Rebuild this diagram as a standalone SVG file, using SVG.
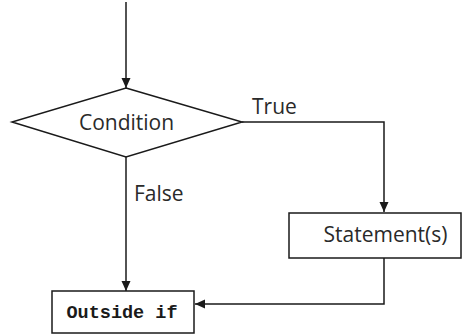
<svg xmlns="http://www.w3.org/2000/svg" width="466" height="336" viewBox="0 0 466 336">
  <style>
    .shape { fill: #ffffff; stroke: #1a1a1a; stroke-width: 1.5; }
    .wire { fill: none; stroke: #1a1a1a; stroke-width: 1.5; }
    .label { font-family: "Open Sans", "Liberation Sans", sans-serif; font-size: 21px; fill: #2a2a2a; }
    .code { font-family: "Liberation Mono", "DejaVu Sans Mono", monospace; font-size: 18.5px; font-weight: bold; fill: #1a1a1a; }
  </style>
  <defs>
    <marker id="arrow" markerWidth="10" markerHeight="10" refX="10" refY="5" orient="auto" markerUnits="userSpaceOnUse">
      <path d="M0,0.5 L10,5 L0,9.5 Z" fill="#1a1a1a"/>
    </marker>
  </defs>
  <rect width="466" height="336" fill="#ffffff"/>

  <g id="connectors">
    <path class="wire" d="M126,2 L126,88" marker-end="url(#arrow)"/>
    <path class="wire" d="M242,122 L384,122 L384,212" marker-end="url(#arrow)"/>
    <path class="wire" d="M126,157 L126,291" marker-end="url(#arrow)"/>
    <path class="wire" d="M384,258 L384,304 L195,304" marker-end="url(#arrow)"/>
    <text class="label" x="252" y="114">True</text>
    <text class="label" x="134" y="201">False</text>
  </g>

  <g id="condition">
    <polygon class="shape" points="126,88 242,122 126,157 12,122"/>
    <text class="label" x="126.5" y="130" text-anchor="middle">Condition</text>
  </g>

  <g id="statements">
    <rect class="shape" x="289" y="213" width="172" height="45"/>
    <text class="label" x="385.5" y="242" text-anchor="middle">Statement(s)</text>
  </g>

  <g id="outside-if">
    <rect class="shape" x="52" y="291" width="142" height="42"/>
    <text class="code" x="122" y="318" text-anchor="middle">Outside if</text>
  </g>
</svg>
